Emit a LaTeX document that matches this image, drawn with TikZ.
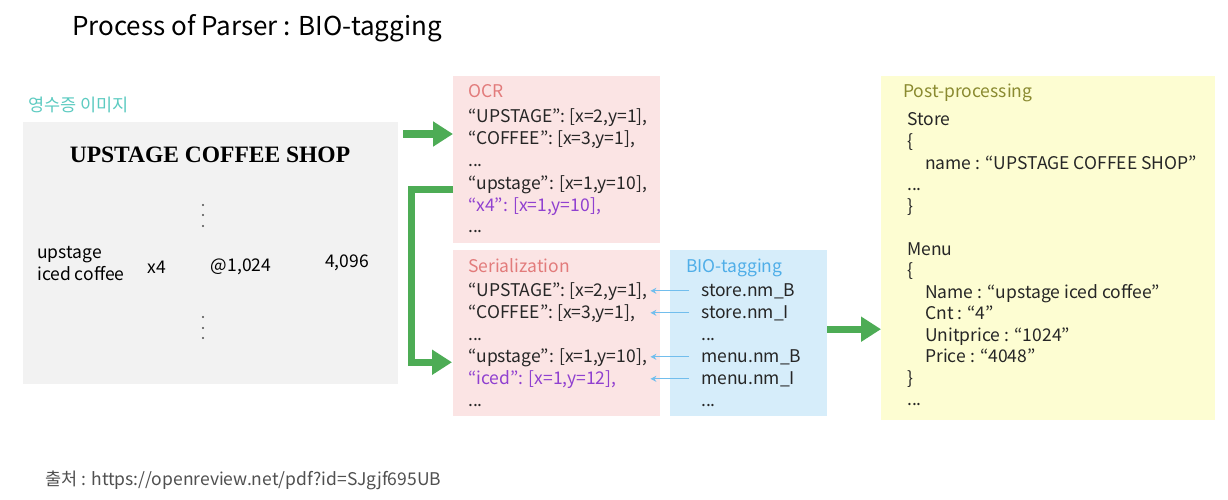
\documentclass[tikz,border=0pt]{standalone}
\usepackage{fontspec}
\setmainfont{Noto Sans CJK KR}
\newfontfamily\receiptfont{Liberation Serif}
\usetikzlibrary{arrows.meta,positioning}
\definecolor{imggray}{HTML}{F2F2F2}
\definecolor{ocrpink}{HTML}{FBE4E4}
\definecolor{bioblue}{HTML}{D6EDFA}
\definecolor{postyellow}{HTML}{FDFDD2}
\definecolor{flowgreen}{HTML}{4DAC55}
\definecolor{tealtext}{HTML}{5CCBC1}
\definecolor{salmontext}{HTML}{E27B7B}
\definecolor{bluetext}{HTML}{4FAEE8}
\definecolor{olivetext}{HTML}{8A8A30}
\definecolor{purpletext}{HTML}{9040D0}
\definecolor{footgray}{HTML}{505050}
\tikzset{
  panel/.style={anchor=north west, inner sep=0pt},
  line/.style={anchor=base west, inner sep=0pt, text=black!85},
  flow/.style={draw=flowgreen, line width=7pt, line join=miter,
    -{Triangle[length=20pt,width=24pt]}},
  tagarrow/.style={draw=bluetext!80, line width=1pt, -{Stealth[length=6pt,width=6pt]}},
}

\begin{document}
\begin{tikzpicture}[x=1pt, y=-1pt, every node/.style={font=\fontsize{17.5}{21}\selectfont}]
\useasboundingbox[fill=white] (0,0) rectangle (1228,500);
% Title
\node[anchor=west, inner sep=0pt, font=\fontsize{26}{30}\selectfont] (title) at (72,28) {Process of Parser : BIO-tagging};
% Receipt image
\node[anchor=west, inner sep=0pt, text=tealtext] (imglabel) at (28,105) {영수증 이미지};
\node[panel, fill=imggray, minimum width=375pt, minimum height=262pt] (img) at (23,122) {};
\node[font=\receiptfont\bfseries\fontsize{23.5}{27}\selectfont] (shop) at (210,155) {UPSTAGE COFFEE SHOP};
\foreach \y in {205,215,226,317,328,338}
  \fill[black!70] (203,\y) circle (1.1pt);
\node[anchor=west, inner sep=0pt, align=left, font=\fontsize{17.5}{22}\selectfont] (item) at (37,264) {upstage\\iced coffee};
\node (cnt) at (157,267) {x4};
\node (unit) at (241,267) {@1,024};
\node (price) at (347,263) {4,096};
% OCR
\node[panel, fill=ocrpink, minimum width=207pt, minimum height=167pt] (ocr) at (453,76) {};
\node[line, text=salmontext] (ocrtitle) at (468,98) {OCR};
\node[line] (ocr1) at (468,122) {“UPSTAGE”: [x=2,y=1],};
\node[line] (ocr2) at (468,144) {“COFFEE”: [x=3,y=1],};
\node[line] (ocr3) at (468,166) {...};
\node[line] (ocr4) at (468,189) {“upstage”: [x=1,y=10],};
\node[line, text=purpletext] (ocr5) at (468,211) {“x4”: [x=1,y=10],};
\node[line] (ocr6) at (468,232) {...};
% Serialization
\node[panel, fill=ocrpink, minimum width=207pt, minimum height=166pt] (ser) at (453,250) {};
\node[line, text=salmontext] (sertitle) at (468,272) {Serialization};
\node[line] (ser1) at (468,296) {“UPSTAGE”: [x=2,y=1],};
\node[line] (ser2) at (468,318) {“COFFEE”: [x=3,y=1],};
\node[line] (ser3) at (468,340) {...};
\node[line] (ser4) at (468,362) {“upstage”: [x=1,y=10],};
\node[line, text=purpletext] (ser5) at (468,384) {“iced”: [x=1,y=12],};
\node[line] (ser6) at (468,406) {...};
% BIO-tagging
\node[panel, fill=bioblue, minimum width=157pt, minimum height=166pt] (bio) at (670,250) {};
\node[line, text=bluetext] (biotitle) at (686,272) {BIO-tagging};
\node[line] (bio1) at (701,296) {store.nm\_B};
\node[line] (bio2) at (701,318) {store.nm\_I};
\node[line] (bio3) at (701,340) {...};
\node[line] (bio4) at (701,362) {menu.nm\_B};
\node[line] (bio5) at (701,384) {menu.nm\_I};
\node[line] (bio6) at (701,406) {...};
\foreach \i in {1,2,4,5}
  \draw[tagarrow] ([xshift=-12pt]bio\i.west) -- ([xshift=-10pt]bio\i.west -| ser.east);
% Post-processing
\node[panel, fill=postyellow, minimum width=334pt, minimum height=344pt] (post) at (881,76) {};
\node[line, text=olivetext] (posttitle) at (903,98) {Post-processing};
\node[line] (p1) at (907,126) {Store};
\node[line] (p2) at (907,147.5) {\{};
\node[line] (p3) at (925,169) {name : “UPSTAGE COFFEE SHOP”};
\node[line] (p4) at (907,190.5) {...};
\node[line] (p5) at (907,212) {\}};
\node[line] (p6) at (907,255) {Menu};
\node[line] (p7) at (907,276.5) {\{};
\node[line] (p8) at (925,298) {Name : “upstage iced coffee”};
\node[line] (p9) at (925,319.5) {Cnt : “4”};
\node[line] (p10) at (925,341) {Unitprice : “1024”};
\node[line] (p11) at (925,362.5) {Price : “4048”};
\node[line] (p12) at (907,384) {\}};
\node[line] (p13) at (907,405.5) {...};
% Green flow arrows
\coordinate (imgout) at (403,134);
\draw[flow] (imgout) -- (imgout -| ocr.west);
\draw[flow] ([yshift=-5pt]ocr4.west -| ocr.west) -- ++(-42,0) |- ([xshift=-1pt,yshift=-5pt]ser4.west -| ser.west);
\draw[flow] ([yshift=4pt]bio.east) -- ([yshift=4pt]bio.east -| post.west);
% Source
\node[anchor=west, inner sep=0pt, text=footgray, font=\fontsize{17.5}{21}\selectfont] (source) at (45,480) {출처 : https://openreview.net/pdf?id=SJgjf695UB};
\end{tikzpicture}
\end{document}
